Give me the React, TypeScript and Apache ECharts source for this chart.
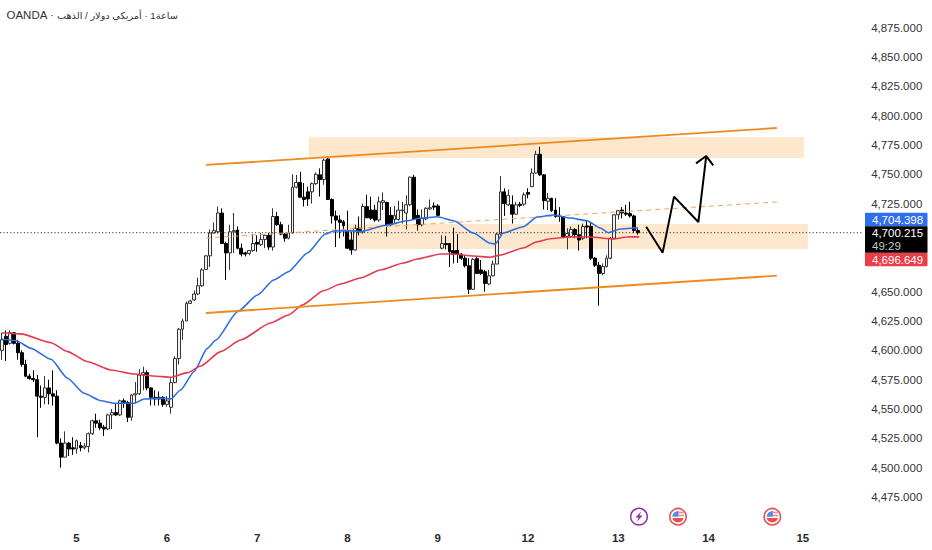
import React, { useEffect, useRef } from "react";
import * as echarts from "echarts";

// [open, close, low, high]
const candles: number[][] = [
[4600,4609,4592,4615],[4612,4605,4591,4617],[4606,4615,4605,4617],[4615,4606,4605,4615],[4606,4598,4592,4609],
[4598,4588,4586,4600],[4588,4578,4577,4592],[4578,4576,4575,4580],[4576,4575,4573,4583],[4575,4561,4526,4579],
[4561,4560,4551,4570],[4560,4568,4554,4578],[4568,4563,4554,4575],[4563,4561,4553,4583],[4561,4521,4520,4566],
[4521,4509,4500,4525],[4509,4521,4509,4531],[4521,4516,4510,4522],[4517,4516,4511,4526],[4516,4523,4512,4524],
[4519,4517,4514,4522],[4517,4518.5,4515.5,4521],[4518,4529,4513,4530],[4529,4540,4528,4541],[4540,4538,4534,4546],
[4538,4534,4532,4541],[4534.5,4533,4527,4536.5],[4533,4545,4532,4546],[4545,4547,4533,4550],[4547,4545,4544,4555],
[4545,4557,4544,4558],[4557,4555.5,4551,4559],[4555.5,4543,4539,4557],[4543,4562,4540,4563],[4562,4563,4555,4573],
[4563,4579,4562,4584],[4579,4581,4566,4586],[4581,4568,4566,4583],[4568,4560,4553,4568.5],[4560,4558.5,4553,4566],
[4560,4558.5,4553,4565],[4560,4554,4552,4561],[4554,4557,4552,4561],[4551.5,4572.5,4546,4576],[4572.5,4593,4572,4595],
[4593,4618,4588,4619],[4618,4625,4609,4627],[4625,4640,4625,4641.5],[4640,4642,4639.5,4643],[4643,4648,4642,4651],
[4648,4655,4647,4662],[4655,4668.5,4654,4670],[4669,4680.5,4668.5,4681],[4680.5,4700,4671,4703],[4700,4702,4699.5,4709],
[4701,4717,4699.5,4722.5],[4717,4691,4690.5,4721],[4691,4683,4660,4692.5],[4683,4701,4668.5,4707],[4701,4702,4683,4717],
[4702.5,4687,4686,4705.5],[4687,4682,4680,4691],[4683,4682,4680,4684],[4682.5,4685,4681,4685.5],[4685,4691,4684,4699],
[4692,4690.5,4684,4698],[4690,4694.5,4689,4700],[4694.5,4698,4687,4699],[4698,4688,4685.5,4700],[4688,4714,4685,4721],
[4714,4707,4706,4718],[4707,4699,4698,4709.5],[4699,4695.5,4692.5,4700],[4695.5,4700,4694.5,4707],[4700,4739,4699.5,4750],
[4739,4743,4738,4749.5],[4743,4730.5,4730,4752],[4730.5,4728.5,4722.5,4742.5],[4735,4729,4723,4739.5],[4735,4742,4725,4743],
[4742,4750,4741,4751.5],[4749.5,4745.5,4731,4755],[4745.5,4762,4741,4763.5],[4763,4728.5,4728,4765],[4728.5,4714.5,4708,4729.5],
[4714.5,4711,4688,4719],[4711,4709,4695.5,4715],[4709.5,4706,4697,4711],[4702,4687,4686.5,4719],[4694,4685.5,4681.5,4701],
[4685.5,4704,4685,4707],[4704,4701,4698,4714],[4701,4722.5,4699.5,4725],[4722.5,4713,4712.5,4732.5],[4719.5,4712.5,4711,4731],
[4719.5,4711,4709.5,4724],[4711,4726.5,4709.5,4731],[4726,4727.5,4719.5,4734.5],[4726,4707,4697,4726.5],[4715,4707,4706,4722],
[4711.5,4715,4708,4723],[4711.5,4719.5,4710.5,4727.5],[4719,4719.5,4708,4726.5],[4717,4724,4703,4732],[4724,4747.5,4723,4748],
[4747.5,4711.5,4711,4749.5],[4715,4707,4702,4720],[4707,4712.5,4705.5,4720],[4712,4721,4711,4722],[4720.5,4721.5,4719.5,4728.5],
[4723,4722,4719.5,4726],[4723,4715,4714.5,4724.5],[4687,4691,4686,4698],[4691,4690,4686,4697.5],[4691,4684,4671,4691.5],
[4685,4682,4674,4704.5],[4685,4682,4674.5,4699],[4682,4678.5,4677,4683],[4678.5,4672,4670.5,4681],[4672,4652,4648,4678.5],
[4652,4677.5,4651.5,4678.5],[4678,4665.5,4665,4680.5],[4668.5,4665.5,4664,4677],[4667,4657,4650,4668.5],[4656.5,4663.5,4655.5,4668.5],
[4663.5,4673.5,4663,4676.5],[4673.5,4699,4673.5,4700],[4699,4735,4699,4748.5],[4735,4725,4714.5,4738],[4724,4732,4723,4737],
[4724,4716,4708,4732],[4716,4724,4715.5,4726.5],[4724.5,4723.5,4722,4726.5],[4724.5,4732.5,4723,4734.5],[4734.5,4733,4729.5,4738],
[4739.5,4751,4739,4755],[4751,4767,4750.5,4770],[4767,4749.5,4748.5,4773.5],[4749.5,4727.5,4720,4750],[4727,4729.5,4719.5,4734],
[4729.5,4719,4718,4730],[4719.5,4714,4713,4729.5],[4715,4714,4709.5,4722],[4714,4696.5,4695.5,4714.5],[4697,4699.5,4686,4704],
[4697,4703,4696,4705.5],[4703,4698.5,4695.5,4704],[4698.5,4694,4685,4707],[4695.5,4705.5,4694,4708],[4706,4705,4695.5,4711],
[4705.5,4678.5,4677,4709],[4678.5,4672.5,4671,4679.5],[4672.5,4665.5,4638,4675.5],[4665.5,4671.5,4664,4674],[4671.5,4678.5,4670.5,4681],
[4678.5,4695.5,4677.5,4696.5],[4695.5,4715.5,4694.5,4716],[4715.5,4719,4711.5,4719.5],[4719.5,4717,4712.5,4722],[4717,4716,4714.5,4724],
[4716.5,4714.5,4713,4726.5],[4714.5,4702,4700,4715.5],[4702,4700.215,4698.5,4704],
];

const blueAverage: number[][] = [
[0,4609.4],[3.6,4608.2],[7.4,4601.7],[12.5,4592.4],[16.7,4576.2],[20.9,4563.4],[25.2,4557.1],[28.6,4554.9],[33.7,4554.9],
[36.2,4558.6],[40.5,4559.2],[43,4558.6],[45.5,4566.2],[48.9,4581.8],[52.3,4601.7],[54.5,4608.8],[60,4632.9],[65.1,4647.1],
[69.2,4659.9],[73,4667],[77.8,4682.9],[82.4,4699.1],[84.5,4701.7],[88.8,4701.9],[91.3,4701.2],[98.1,4706.8],[103.2,4710.4],
[106.6,4712.5],[110.9,4713.8],[115.1,4710.4],[120.2,4699.7],[124.4,4691.2],[125.7,4690.6],[127.7,4700],[132.8,4705.3],
[136.3,4713.6],[140.5,4715.3],[144.8,4712.7],[149,4710.4],[152.4,4704.2],[154.5,4700.2],[157.5,4703.4],[161.3,4704.2],[162,4704.398],
];
const redAverage: number[][] = [
[0,4615],[4.8,4614],[12.5,4606.5],[16.7,4598.9],[21.8,4590.3],[27.7,4583.3],[33.6,4579.9],[38.7,4578.2],[43,4577],[47.3,4581],
[50.6,4586.7],[55.7,4598.9],[60.8,4608.8],[68.4,4623.3],[73,4630.1],[76.5,4638.6],[81.9,4650.8],[86.3,4656.5],[91.3,4661.6],
[96.4,4668.4],[102.3,4674.4],[105.8,4677.8],[111.7,4682.1],[115,4682.1],[120.1,4680.4],[124.4,4679.3],[127,4681.2],[132.8,4687.2],
[136.3,4692.5],[139.7,4695.1],[144.8,4696.6],[149.9,4696.6],[155.7,4694.8],[159.2,4696.6],[162.3,4696.649],
];

const upperChannel = [[52,4757.9],[197.4,4789.4]];
const midChannel = [[52,4695.7],[197.4,4726.4]];
const lowerChannel = [[52,4631.8],[197.4,4663.6]];
const upperZone = { x: [78.1, 204.3], v: [4763.8, 4781.7] };
const middleZone = { x: [87.5, 205.3], v: [4686.3, 4707.6] };
const projection = [[164.1,4705.3],[168.3,4683.2],[171.2,4730.9],[177.4,4709.3],[179.4,4765.5]];
const arrowHead = [[176.8,4759.3],[179.4,4765.5],[181.2,4757.6]];

const dayTicks: Record<number, string> = { 19: "5", 42: "6", 65: "7", 88: "8", 111: "9", 134: "12", 157: "13", 180: "14", 204: "15" };
const hiddenPriceTicks = [4450, 4700, 4675];
const slotCount = 220;
const lastPrice = 4700.215;
const lastPriceText = "4,700.215";
const countdownText = "49:29";
const blueText = "4,704.398";
const redText = "4,696.649";
const titleLatin = "OANDA ·";
const titleArabic = "الذهب\u200E / \u200Eدولار\u200E \u200Eأمريكي\u200E · \u200E1ساعة";

const FONT = '"Liberation Sans", "DejaVu Sans", sans-serif';

const boltPath = "M2.2,-5.2 L-3.6,0.9 L-0.4,0.9 L-2.2,5.2 L3.6,-1.1 L0.4,-1.1 Z";
const flagBottomPath = "M-5.6,1.4 L5.6,1.4 A5.8,5.8 0 0 1 -5.6,1.4 Z";
const flagCantonPath = "M-5.7,0 A5.8,5.8 0 0 1 0.6,-5.7 L0.6,0 Z";
const shapes: any = echarts.graphic;
echarts.graphic.registerShape("boltIcon", shapes.extendPath(boltPath, {}));
echarts.graphic.registerShape("flagBottom", shapes.extendPath(flagBottomPath, {}));
echarts.graphic.registerShape("flagCanton", shapes.extendPath(flagCantonPath, {}));

function flag(x: number, y: number) {
  return {
    type: "group", x, y,
    children: [
      { type: "circle", shape: { cx: 0, cy: 0, r: 8.2 }, style: { fill: "#fff", stroke: "#e8504f", lineWidth: 1.6 } },
      { type: "flagBottom", style: { fill: "#ea4f4f" } },
      { type: "flagCanton", style: { fill: "#4f8fe8" } },
      { type: "rect", shape: { x: 0.6, y: -5, width: 5, height: 1.6 }, style: { fill: "#ea8b8b" } },
      { type: "rect", shape: { x: 0.6, y: -2, width: 5.4, height: 1.6 }, style: { fill: "#ea8b8b" } },
    ],
  };
}

function priceTag(top: number, h: number, fill: string, text: string) {
  return [
    { type: "rect", shape: { x: 865, y: top, width: 62.5, height: h, r: 1 }, style: { fill } },
    { type: "text", x: 872, y: top + h / 2, style: { text, fill: "#fff", font: `11.5px ${FONT}`, verticalAlign: "middle" } },
  ];
}

export default function App() {
  const ref = useRef<HTMLDivElement>(null);
  useEffect(() => {
    document.body.style.margin = "0";
    document.body.style.background = "#fff";
    const chart = echarts.init(ref.current!, undefined, { renderer: "svg" });
    const categories = Array.from({ length: slotCount }, (_, i) => dayTicks[i] ?? "");
    const overlay = (name: string, data: number[][], color: string, width: number, extra: any = {}) => ({
      type: "line", name, data, xAxisIndex: 1, yAxisIndex: 0, showSymbol: false, symbol: "none", silent: true, z: 4,
      lineStyle: { color, width, ...extra },
    });
    chart.setOption({
      animation: false,
      backgroundColor: "#fff",
      grid: { left: -0.965, top: 27.5, width: slotCount * 3.93, height: 498.95, containLabel: false },
      xAxis: [
        {
          type: "category", data: categories, boundaryGap: true,
          axisLine: { show: false }, axisTick: { show: false }, splitLine: { show: false },
          axisLabel: { interval: (i: number) => dayTicks[i] !== undefined, color: "#2a2a2a", fontFamily: FONT, fontSize: 11.5, fontWeight: "bold", margin: 6, hideOverlap: false },
        },
        { type: "value", show: false, min: -0.5, max: slotCount - 0.5, splitLine: { show: false } },
      ],
      yAxis: {
        type: "value", position: "right", min: 4450, max: 4875, interval: 25, scale: true,
        axisLine: { show: false }, axisTick: { show: false }, splitLine: { show: false },
        axisLabel: {
          color: "#333", fontFamily: FONT, fontSize: 11.5, margin: 7.5,
          formatter: (v: number) => hiddenPriceTicks.includes(v) ? "" : v.toLocaleString("en-US", { minimumFractionDigits: 3, maximumFractionDigits: 3 }),
        },
      },
      series: [
        {
          type: "line", name: "zones", data: [], xAxisIndex: 1, yAxisIndex: 0, z: 1, silent: true,
          markArea: {
            silent: true,
            itemStyle: { color: "#fde8cd", opacity: 1 },
            data: [
              [{ coord: [upperZone.x[0], upperZone.v[1]] }, { coord: [upperZone.x[1], upperZone.v[0]] }],
              [{ coord: [middleZone.x[0], middleZone.v[1]] }, { coord: [middleZone.x[1], middleZone.v[0]] }],
            ],
          },
        },
        overlay("last", [[-0.5, lastPrice], [slotCount - 0.5, lastPrice]], "#333", 1, { type: [1.2, 2.2] }),
        overlay("mid channel", midChannel, "#f2a65a", 1, { type: [5, 4] }),
        {
          type: "candlestick", name: "price", data: candles, xAxisIndex: 0, yAxisIndex: 0, barWidth: 3.4, z: 3, silent: true,
          itemStyle: { color: "#f2f2f2", color0: "#000", borderColor: "#333", borderColor0: "#000", borderWidth: 1 },
        },
        { ...overlay("blue", blueAverage, "#2d6fe0", 1.6), smooth: 0.2, smoothMonotone: "x" },
        { ...overlay("red", redAverage, "#e5394d", 1.6), smooth: 0.2, smoothMonotone: "x" },
        overlay("upper channel", upperChannel, "#ee8a1d", 1.8),
        overlay("lower channel", lowerChannel, "#ee8a1d", 1.8),
        overlay("projection", projection, "#000", 2),
        overlay("arrow", arrowHead, "#000", 2),
      ],
      graphic: [
        { type: "text", x: 6.5, y: 15, style: { text: titleLatin, fill: "#333", font: `11.5px ${FONT}`, verticalAlign: "middle" } },
        { type: "text", x: 57, y: 15, style: { text: titleArabic, fill: "#333", font: `9.7px ${FONT}`, verticalAlign: "middle" } },
        ...priceTag(212.7, 13.6, "#2f6fee", blueText),
        ...priceTag(252.7, 13.6, "#ee3b48", redText),
        { type: "rect", shape: { x: 865, y: 226.2, width: 62.5, height: 26.6 }, style: { fill: "#000" } },
        { type: "text", x: 872, y: 233, style: { text: lastPriceText, fill: "#fff", font: `11.5px ${FONT}`, verticalAlign: "middle" } },
        { type: "text", x: 872, y: 245.5, style: { text: countdownText, fill: "#c8c8c8", font: `11.5px ${FONT}`, verticalAlign: "middle" } },
        {
          type: "group", x: 639, y: 516.7,
          children: [
            { type: "circle", shape: { cx: 0, cy: 0, r: 8.3 }, style: { fill: "#fff", stroke: "#8e2fb0", lineWidth: 1.5 } },
            { type: "boltIcon", style: { fill: "#8e2fb0" } },
          ],
        },
        flag(678, 516.7),
        flag(772.3, 516.7),
      ],
    });
    return () => chart.dispose();
  }, []);
  return <div ref={ref} style={{ width: 932, height: 550, overflow: "hidden" }} />;
}
